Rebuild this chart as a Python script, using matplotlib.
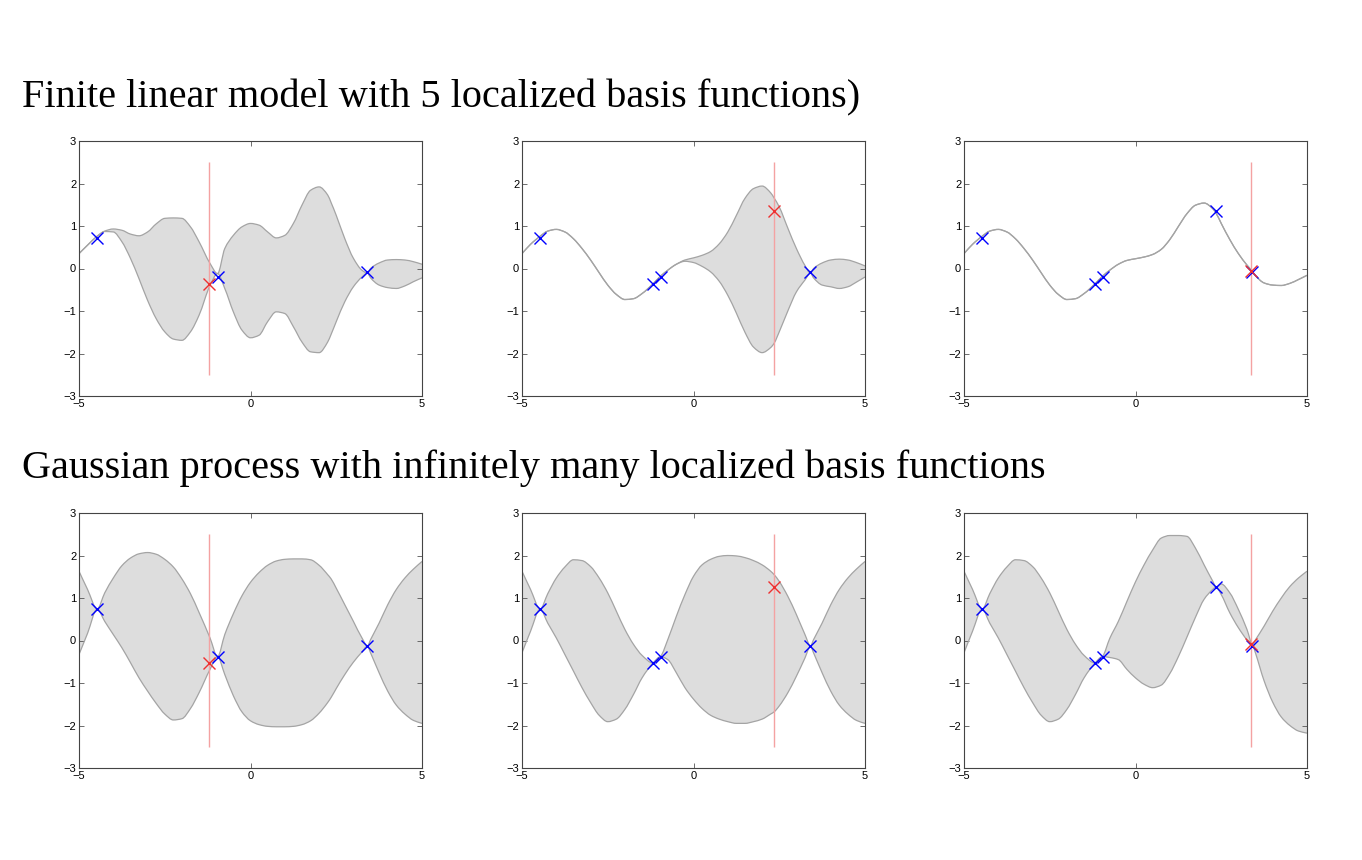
import numpy as np
import matplotlib
matplotlib.use("Agg")
import matplotlib.pyplot as plt
from matplotlib.path import Path
from matplotlib.patches import PathPatch

# =========================
# DATA
# =========================
xs = [-5.0, -4.75, -4.47, -4.25, -4.0, -3.75, -3.5, -3.25, -3.0, -2.75,
      -2.5, -2.25, -2.0, -1.75, -1.5, -1.18, -0.96, -0.75, -0.5, -0.25,
      0.0, 0.25, 0.5, 0.75, 1.0, 1.25, 1.5, 1.75, 2.0, 2.25,
      2.35, 2.5, 2.75, 3.0, 3.25, 3.41, 3.5, 3.75, 4.0, 4.25,
      4.5, 4.75, 5.0]

# top row: finite linear model, posterior band edges
lin3_mean = [0.35, 0.57, 0.76, 0.88, 0.92, 0.86, 0.70, 0.47, 0.20, -0.10,
             -0.39, -0.61, -0.73, -0.71, -0.59, -0.36, -0.18, -0.04, 0.10, 0.19,
             0.23, 0.27, 0.33, 0.45, 0.68, 0.99, 1.29, 1.49, 1.54, 1.41,
             1.30, 1.06, 0.68, 0.35, 0.08, -0.07, -0.17, -0.34, -0.39, -0.40,
             -0.35, -0.26, -0.16]

lin1_upper = [0.35, 0.55, 0.76, 0.88, 0.93, 0.90, 0.81, 0.77, 0.86, 1.05,
              1.18, 1.19, 1.18, 0.98, 0.63, 0.12, -0.12, 0.47, 0.78, 0.98,
              1.06, 1.02, 0.86, 0.72, 0.78, 1.06, 1.49, 1.84, 1.92, 1.73,
              1.55, 1.25, 0.70, 0.24, -0.04, -0.11, 0.00, 0.13, 0.20, 0.21,
              0.20, 0.16, 0.10]
lin1_lower = [0.35, 0.55, 0.76, 0.87, 0.86, 0.63, 0.24, -0.24, -0.75, -1.18,
              -1.49, -1.66, -1.69, -1.49, -1.10, -0.40, -0.12, -0.47, -1.02, -1.45,
              -1.63, -1.57, -1.25, -1.02, -1.06, -1.37, -1.73, -1.96, -1.98, -1.73,
              -1.55, -1.25, -0.78, -0.43, -0.20, -0.11, -0.22, -0.39, -0.45, -0.47,
              -0.41, -0.31, -0.22]

lin2_upper = [0.35, 0.57, 0.76, 0.88, 0.92, 0.86, 0.70, 0.47, 0.20, -0.10,
              -0.39, -0.61, -0.73, -0.71, -0.59, -0.36, -0.18, -0.04, 0.10, 0.20,
              0.25, 0.31, 0.40, 0.58, 0.86, 1.25, 1.65, 1.88, 1.94, 1.78,
              1.66, 1.45, 0.95, 0.47, 0.07, -0.11, 0.00, 0.13, 0.20, 0.22,
              0.20, 0.14, 0.06]
lin2_lower = [0.35, 0.57, 0.76, 0.88, 0.92, 0.86, 0.70, 0.47, 0.20, -0.10,
              -0.39, -0.61, -0.73, -0.71, -0.59, -0.36, -0.18, -0.04, 0.10, 0.17,
              0.14, 0.05, -0.08, -0.30, -0.63, -1.05, -1.50, -1.85, -1.98, -1.86,
              -1.76, -1.49, -1.00, -0.55, -0.27, -0.11, -0.22, -0.39, -0.43, -0.47,
              -0.43, -0.32, -0.20]

# bottom row: gaussian process, posterior band edges
gp1_upper = [1.63, 1.20, 0.74, 1.12, 1.47, 1.76, 1.94, 2.04, 2.07, 2.03,
             1.91, 1.73, 1.45, 1.10, 0.66, 0.06, -0.38, 0.14, 0.63, 1.05,
             1.37, 1.60, 1.77, 1.87, 1.91, 1.92, 1.92, 1.90, 1.77, 1.55,
             1.45, 1.23, 0.84, 0.45, 0.06, -0.13, 0.02, 0.41, 0.84, 1.20,
             1.47, 1.68, 1.86]
gp1_lower = [-0.33, 0.17, 0.74, 0.45, 0.14, -0.17, -0.52, -0.88, -1.19, -1.48,
             -1.73, -1.87, -1.84, -1.60, -1.23, -0.68, -0.38, -0.80, -1.30, -1.68,
             -1.89, -1.98, -2.02, -2.03, -2.03, -2.02, -1.98, -1.89, -1.71, -1.46,
             -1.34, -1.13, -0.80, -0.51, -0.27, -0.13, -0.29, -0.76, -1.19, -1.52,
             -1.73, -1.88, -1.95]

gp2_upper = [1.63, 1.20, 0.74, 1.10, 1.47, 1.73, 1.90, 1.88, 1.74, 1.47,
             1.12, 0.69, 0.26, -0.09, -0.35, -0.53, -0.38, 0.02, 0.57, 1.08,
             1.51, 1.78, 1.91, 1.98, 2.00, 1.99, 1.95, 1.88, 1.78, 1.63,
             1.55, 1.39, 1.04, 0.61, 0.14, -0.13, 0.02, 0.41, 0.84, 1.20,
             1.47, 1.68, 1.86]
gp2_lower = [-0.29, 0.22, 0.74, 0.41, 0.06, -0.33, -0.72, -1.11, -1.46, -1.76,
             -1.91, -1.85, -1.62, -1.27, -0.88, -0.53, -0.38, -0.45, -0.76, -1.11,
             -1.38, -1.60, -1.76, -1.85, -1.91, -1.95, -1.95, -1.91, -1.85, -1.73,
             -1.68, -1.54, -1.23, -0.84, -0.41, -0.13, -0.29, -0.76, -1.19, -1.52,
             -1.73, -1.88, -1.95]

gp3_upper = [1.63, 1.20, 0.74, 1.10, 1.47, 1.73, 1.90, 1.88, 1.74, 1.47,
             1.12, 0.69, 0.26, -0.09, -0.35, -0.53, -0.38, 0.05, 0.45, 0.92,
             1.38, 1.78, 2.13, 2.41, 2.47, 2.47, 2.45, 2.17, 1.78, 1.40,
             1.26, 1.33, 1.12, 0.73, 0.26, -0.09, 0.02, 0.34, 0.69, 1.00,
             1.27, 1.47, 1.63]
gp3_lower = [-0.29, 0.22, 0.74, 0.41, 0.06, -0.33, -0.72, -1.11, -1.46, -1.76,
             -1.91, -1.85, -1.62, -1.27, -0.88, -0.53, -0.38, -0.40, -0.45, -0.68,
             -0.88, -1.03, -1.11, -1.05, -0.78, -0.38, 0.08, 0.55, 0.97, 1.20,
             1.26, 1.08, 0.65, 0.30, 0.02, -0.09, -0.30, -0.95, -1.45, -1.80,
             -2.00, -2.13, -2.18]

# observed points (blue) and the query point (red) of each panel
lin_obs_x = [-4.47, -1.18, -0.95, 2.35, 3.41]
lin_obs_y = [0.72, -0.36, -0.21, 1.35, -0.09]
gp_obs_x = [-4.47, -1.18, -0.96, 2.35, 3.41]
gp_obs_y = [0.73, -0.53, -0.38, 1.26, -0.13]
obs_used = [[0, 2, 4], [0, 1, 2, 4], [0, 1, 2, 3, 4]]

lin_query_x = [-1.2, 2.34, 3.38]
lin_query_y = [-0.37, 1.36, -0.05]
gp_query_x = [-1.2, 2.34, 3.38]
gp_query_y = [-0.53, 1.26, -0.08]

titles = ["Finite linear model with 5 localized basis functions)",
          "Gaussian process with infinitely many localized basis functions"]

# =========================
# STYLE
# =========================
BAND_FILL = "#dddddd"
BAND_EDGE = "#a4a4a4"
BLUE = "#0000ff"
RED = "#ee3030"
VLINE = "#f4a2a2"
VLINE_LO, VLINE_HI = -2.5, 2.5

plt.rcParams["font.family"] = ["Liberation Sans", "DejaVu Sans"]

fig = plt.figure(figsize=(13.62, 8.6), dpi=100)

col_left = [79 / 1362, 522 / 1362, 964 / 1362]
row_bottom = [1 - 396 / 860, 1 - 768 / 860]
ax_w = 343 / 1362
ax_h = 255 / 860

rows = [
    dict(bands=[(lin1_lower, lin1_upper), (lin2_lower, lin2_upper), (lin3_mean, lin3_mean)],
         ox=lin_obs_x, oy=lin_obs_y, qx=lin_query_x, qy=lin_query_y),
    dict(bands=[(gp1_lower, gp1_upper), (gp2_lower, gp2_upper), (gp3_lower, gp3_upper)],
         ox=gp_obs_x, oy=gp_obs_y, qx=gp_query_x, qy=gp_query_y),
]


# smooth curve segments (cubic bezier) through the read points,
# slopes chosen like pchip so there is no overshoot
def curve_segments(x, y):
    x = np.asarray(x, float)
    y = np.asarray(y, float)
    h = np.diff(x)
    d = np.diff(y) / h
    m = np.zeros_like(y)
    m[0], m[-1] = d[0], d[-1]
    for i in range(1, len(x) - 1):
        if d[i - 1] * d[i] <= 0:
            m[i] = 0.0
        else:
            w1 = 2 * h[i] + h[i - 1]
            w2 = h[i] + 2 * h[i - 1]
            m[i] = (w1 + w2) / (w1 / d[i - 1] + w2 / d[i])
    verts = []
    for i in range(len(x) - 1):
        verts.append((x[i] + h[i] / 3, y[i] + m[i] * h[i] / 3))
        verts.append((x[i + 1] - h[i] / 3, y[i + 1] - m[i + 1] * h[i] / 3))
        verts.append((x[i + 1], y[i + 1]))
    return verts


def curve_path(x, y):
    verts = [(x[0], y[0])] + curve_segments(x, y)
    codes = [Path.MOVETO] + [Path.CURVE4] * (len(verts) - 1)
    return Path(verts, codes)


def band_path(x, lower, upper):
    up = curve_segments(x, upper)
    lo = curve_segments(x[::-1], lower[::-1])
    verts = [(x[0], upper[0])] + up + [(x[-1], lower[-1])] + lo + [(x[0], upper[0])]
    codes = ([Path.MOVETO] + [Path.CURVE4] * len(up) + [Path.LINETO]
             + [Path.CURVE4] * len(lo) + [Path.CLOSEPOLY])
    return Path(verts, codes)


def draw_panel(ax, lower, upper, ox, oy, used, qx, qy):
    ax.add_patch(PathPatch(band_path(xs, lower, upper), facecolor=BAND_FILL,
                           edgecolor="none", zorder=1))
    ax.add_patch(PathPatch(curve_path(xs, upper), fill=False, edgecolor=BAND_EDGE,
                           lw=0.9, zorder=2))
    ax.add_patch(PathPatch(curve_path(xs, lower), fill=False, edgecolor=BAND_EDGE,
                           lw=0.9, zorder=2))
    ax.vlines(qx, VLINE_LO, VLINE_HI, color=VLINE, lw=1.0, zorder=3)
    ax.plot([ox[i] for i in used], [oy[i] for i in used], "x",
            color=BLUE, ms=9, mew=1.0, zorder=4)
    ax.plot([qx], [qy], "x", color=RED, ms=9, mew=1.0, zorder=5)

    ax.set_xlim(-5, 5)
    ax.set_ylim(-3, 3)
    ax.set_xticks([-5, 0, 5])
    ax.set_yticks([-3, -2, -1, 0, 1, 2, 3])
    ax.tick_params(direction="in", length=3.5, width=0.6, color="#555555",
                   labelsize=8, pad=2, top=True, right=True)
    for s in ax.spines.values():
        s.set_color("#444444")
        s.set_linewidth(0.8)


# =========================
# PLOT
# =========================
for r, row in enumerate(rows):
    for c in range(3):
        ax = fig.add_axes([col_left[c], row_bottom[r], ax_w, ax_h])
        lo, up = row["bands"][c]
        draw_panel(ax, lo, up, row["ox"], row["oy"], obs_used[c],
                   row["qx"][c], row["qy"][c])

fig.text(22 / 1362, 1 - 107 / 860, titles[0], fontsize=29, va="baseline",
         family=["Liberation Serif", "DejaVu Serif"])
fig.text(22 / 1362, 1 - 478 / 860, titles[1], fontsize=29, va="baseline",
         family=["Liberation Serif", "DejaVu Serif"])

fig.savefig("out.png", dpi=100)
